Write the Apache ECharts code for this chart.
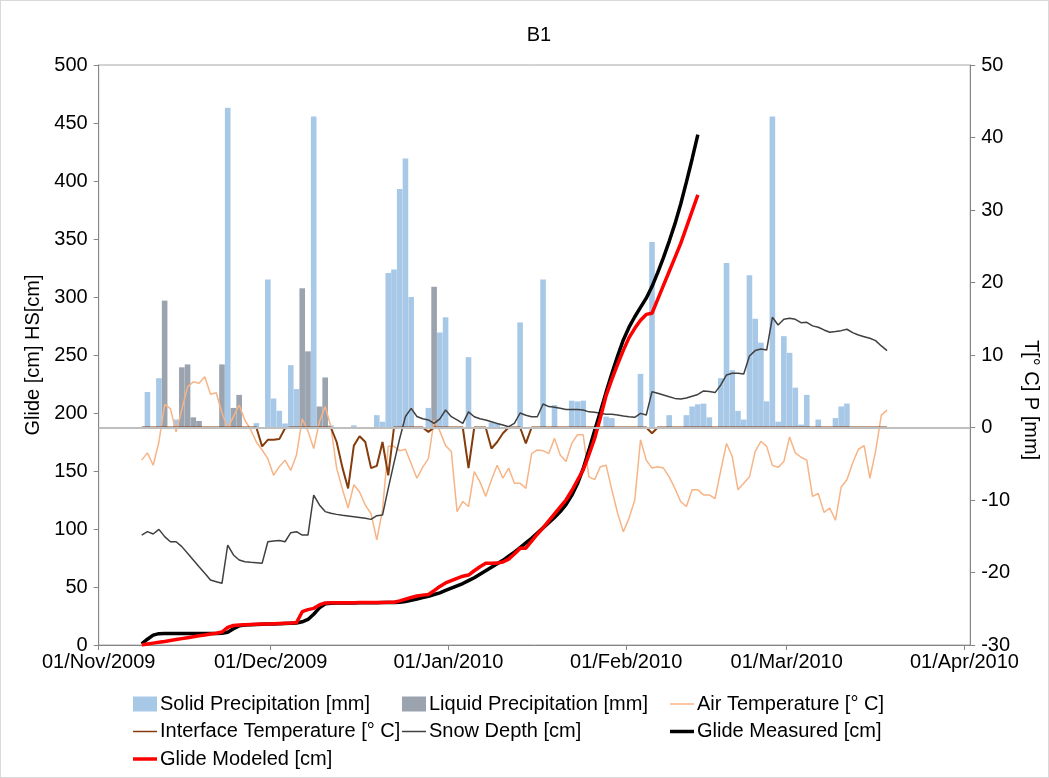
<!DOCTYPE html>
<html>
<head>
<meta charset="utf-8">
<title>B1</title>
<script src="https://cdn.jsdelivr.net/npm/echarts@6/dist/echarts.min.js"></script>
<style>
  html, body { margin: 0; padding: 0; background: #fff; }
  #chart { width: 1049px; height: 778px; }
  #frame { position: absolute; left: 0; top: 0; width: 1049px; height: 778px; box-sizing: border-box; border: 1px solid #d9d9d9; pointer-events: none; }
</style>
</head>
<body>
<div id="chart"></div>
<div id="frame"></div>
<script>
// all daily series start on 08/Nov/2009 (one value per day)
const firstDate = [2009, 10, 8]
const axisStart = [2009, 10, 1]
const axisEnd = [2010, 3, 2]
const tickDates = [[2009, 10, 1], [2009, 11, 1], [2010, 0, 1], [2010, 1, 1], [2010, 2, 1], [2010, 3, 1]]
const tickLabels = ['01/Nov/2009', '01/Dec/2009', '01/Jan/2010', '01/Feb/2010', '01/Mar/2010', '01/Apr/2010']

// precipitation [mm], right axis
const solidPrecip = [
  0, 4.9, 0, 6.8, 0, 0, 1.1, 0, 0, 0,
  0, 0, 0, 0, 0, 44.1, 0, 0, 0, 0,
  0.6, 0, 20.4, 4.0, 2.3, 0.55, 8.6, 5.3, 0, 0,
  42.9, 0, 0, 0.3, 0, 0, 0, 0.3, 0, 0,
  0, 1.7, 0.8, 21.3, 21.8, 32.9, 37.1, 18.0, 0, 0,
  2.7, 0, 13.1, 15.2, 0, 0, 0, 9.7, 0, 0,
  0, 0.7, 0.5, 0, 0, 0, 14.5, 0, 0, 0,
  20.4, 0, 3.1, 0, 0, 3.7, 3.6, 3.7, 0, 0,
  0, 1.5, 1.3, 0, 0, 0, 0, 7.4, 0, 25.6,
  0, 0, 1.7, 0, 0, 1.7, 2.9, 3.2, 3.3, 1.4,
  0, 6.8, 22.7, 7.9, 2.3, 1.1, 21.0, 15.0, 11.7, 3.6,
  42.9, 0.8, 12.6, 10.3, 5.5, 0.4, 4.5, 0, 1.1, 0,
  0, 1.3, 2.9, 3.3, 0, 0, 0, 0, 0, 0,
  0
]
const liquidPrecip = [
  0, 0, 0, 0, 17.5, 0, 0, 8.3, 8.7, 1.4,
  0.9, 0, 0, 0, 8.7, 0, 2.7, 4.5, 0, 0,
  0, 0, 0, 0, 0, 0, 0, 0, 19.2, 10.5,
  0, 2.9, 6.9, 0, 0, 0, 0, 0, 0, 0,
  0, 0, 0, 0, 0, 0, 0, 0, 0, 0,
  0, 19.4
]

// temperatures [° C], right axis
const airTemp = [
  -4.5, -3.5, -5.2, -2.0, 3.2, 2.6, -0.6, 2.5, 5.6, 6.3,
  6.1, 7.0, 4.6, 4.8, 2.0, -0.1, 1.5, 3.1, 1.0, -0.3,
  -2.0, -3.1, -4.3, -6.6, -5.4, -4.5, -5.9, -3.8, 1.2, -0.5,
  -2.9, 0.8, 2.9, 0.1, -5.6, -8.5, -11.1, -7.9, -8.9, -10.7,
  -11.9, -15.5, -11.4, -2.6, -2.6, -3.2, -3.0, -5.0, -7.0, -5.5,
  -4.3, 1.0, -0.5, -2.5, -3.3, -11.6, -10.2, -10.9, -6.1, -7.5,
  -9.5, -7.2, -5.2, -7.0, -5.6, -7.7, -7.7, -8.4, -3.6, -3.1,
  -3.2, -3.6, -1.5, -3.8, -4.7, -2.2, -1.0, -1.0, -6.8, -7.2,
  -5.4, -5.2, -8.6, -11.8, -14.4, -12.5, -10.0, -1.7, -4.5, -5.6,
  -5.4, -5.6, -6.8, -8.4, -10.2, -10.9, -8.6, -8.6, -9.3, -9.3,
  -9.8, -5.9, -2.2, -4.0, -8.6, -7.7, -6.8, -3.3, -1.9, -2.6,
  -5.2, -5.5, -4.7, -1.3, -3.5, -4.1, -4.5, -9.5, -9.1, -11.7,
  -11.1, -12.8, -8.2, -7.2, -4.9, -3.0, -2.5, -7.0, -3.3, 1.7,
  2.4
]
const interfaceTemp = [
  0, 0, 0, 0, 0, 0, 0, 0, 0, 0,
  0, 0, 0, 0, 0, 0, 0, 0, 0, 0,
  0, -2.6, -1.7, -1.7, -1.6, -0.1, 0, 0, 0, 0,
  0, 0, 0, 0, -2.0, -5.5, -8.4, -2.5, -1.2, -2.0,
  -5.6, -5.3, -2.0, -6.6, 0, 0, 0, 0, 0, 0,
  -0.6, 0, 0, 0, 0, 0, 0, -5.6, 0, 0,
  0, -2.9, -2.0, -0.8, 0, 0, 0, -2.2, 0, 0,
  0, 0, 0, 0, 0, 0, 0, 0, 0, 0,
  0, 0, 0, 0, 0, 0, 0, 0, 0, -0.8,
  0, 0, 0, 0, 0, 0, 0, 0, 0, 0,
  0, 0, 0, 0, 0, 0, 0, 0, 0, 0,
  0, 0, 0, 0, 0, 0, 0, 0, 0, 0,
  0, 0, 0, 0, 0, 0, 0, 0, 0, 0,
  0
]

// snow depth and glide [cm], left axis
const snowDepth = [
  94.8, 97.7, 95.7, 99.7, 93.4, 89, 89, 84.8, 79, 73.3,
  67.5, 61.8, 56, 54.6, 53.2, 86.2, 77.6, 73.3, 71.8, 71.3,
  71, 70.4, 89, 89.7, 90, 89, 96.8, 97.7, 94.8, 94.8,
  129.3, 120.7, 115, 113.5, 112.6, 111.8, 111.2, 110.6, 110, 109.2,
  108.3, 111.5, 112, 135, 157, 178, 197, 204, 197, 195,
  194, 191, 195, 202.6, 196.8, 194, 191, 201, 196.8, 195,
  194, 192.5, 191, 189.7, 188.2, 191, 200, 198, 196.8, 196.8,
  207.8, 205.5, 205, 204, 203, 203, 203, 202.6, 201, 200.6,
  199.7, 199, 198.9, 198.3, 197.4, 196.8, 196.3, 199.7, 198.3, 218.4,
  217, 215.5, 214, 212.6, 212, 213, 214.5, 216, 219, 218.5,
  217.6, 224.2, 232.8, 234.3, 234.3, 233.7, 249.2, 253.8, 255.2, 254.3,
  282.5, 275.9, 280.8, 281.6, 280.8, 277.9, 278.2, 275.1, 273.9, 271.6,
  269.6, 270.2, 271, 272.2, 269.3, 267.2, 265.8, 264.4, 262.4, 257.8,
  253.8
]
const glideMeasured = [
  1, 5, 8.5, 9.8, 10, 10, 10, 10, 10, 10,
  10, 10, 10, 10, 10.2, 11, 14, 16.5, 17.2, 17.4,
  17.6, 17.8, 18, 18.2, 18.4, 18.6, 18.8, 19, 20, 22,
  26.5, 32, 35.5, 36, 36.1, 36.2, 36.3, 36.3, 36.4, 36.4,
  36.5, 36.5, 36.6, 36.6, 36.7, 36.8, 37.5, 38.5, 39.6, 40.8,
  42, 43.5, 45, 47, 49, 51, 53, 55.5, 58, 61,
  64, 67, 70, 73, 76.5, 80, 84, 88, 92, 96.5,
  101, 105.5, 110, 115, 121, 129, 139, 152, 168, 185,
  201, 218, 234, 249, 263, 274, 283, 291, 299, 309,
  321, 334, 348, 363, 380, 399, 419, 440
]
const glideModeled = [
  0, 0.8, 1.6, 2.4, 3.1, 3.9, 4.7, 5.5, 6.3, 7.1,
  7.9, 8.6, 9.4, 10.2, 11.2, 15.2, 16.8, 17.2, 17.4, 17.6,
  17.8, 18, 18.2, 18.4, 18.6, 18.8, 19, 19.3, 28.7, 30.5,
  31.6, 34.5, 36.3, 36.4, 36.4, 36.5, 36.5, 36.5, 36.6, 36.6,
  36.6, 36.7, 36.7, 36.8, 36.8, 38, 39.5, 41, 42.2, 43,
  43.5, 46.8, 50.5, 53.5, 55.5, 57.5, 59.3, 60.3, 64, 67.5,
  70.4, 70.5, 70.6, 71.5, 74, 78.5, 83.3, 83.5, 89.5, 95.5,
  101, 107, 113, 119, 125, 133, 142, 151, 164, 178,
  196, 215, 229, 242, 254, 265, 273, 280, 285, 286,
  298, 310, 322, 334, 346, 360, 374, 388
]

const font = "'Liberation Sans', Arial, sans-serif"
const axisGray = '#868686'
const fs = 20

// x axis counts days since 01/Nov/2009; each daily value sits at midday
const dayNum = d => (Date.UTC(d[0], d[1], d[2]) - Date.UTC(axisStart[0], axisStart[1], axisStart[2])) / 86400000
const firstDay = dayNum(firstDate)
const pts = arr => arr.map((v, i) => [firstDay + i + 0.5, v])
const tickDays = tickDates.map(dayNum)

// legend icon for a line of given thickness (plain stroke, no marker)
const lineIcon = w => 'path://M0,0 L48,0 L48,' + w + ' L0,' + w + ' Z'

const chart = echarts.init(document.getElementById('chart'))

const legendBase = {
  top: 694, orient: 'vertical', itemGap: 7.5, itemWidth: 24, itemHeight: 15, padding: 0,
  textStyle: { color: '#000', fontSize: fs, fontFamily: font, lineHeight: 20, padding: [0, 0, 0, -2] }
}

chart.setOption({
  backgroundColor: '#ffffff',
  animation: false,
  title: {
    text: 'B1',
    left: 534,
    textAlign: 'center',
    top: 20,
    textStyle: { color: '#000', fontSize: fs, fontWeight: 'normal', fontFamily: font }
  },
  grid: {
    left: 98.7, right: 78, top: 65, bottom: 133,
    show: true, borderColor: '#a6a6a6', borderWidth: 1
  },
  legend: [
    Object.assign({}, legendBase, {
      left: 133,
      data: [
        { name: 'Solid Precipitation [mm]', icon: 'rect' },
        { name: 'Interface Temperature [° C]', icon: lineIcon(3) },
        { name: 'Glide Modeled [cm]', icon: lineIcon(7) }
      ]
    }),
    Object.assign({}, legendBase, {
      left: 402,
      data: [
        { name: 'Liquid Precipitation [mm]', icon: 'rect' },
        { name: 'Snow Depth [cm]', icon: lineIcon(3) }
      ]
    }),
    Object.assign({}, legendBase, {
      left: 670,
      data: [
        { name: 'Air Temperature [° C]', icon: lineIcon(3) },
        { name: 'Glide Measured [cm]', icon: lineIcon(7) }
      ]
    })
  ],
  xAxis: {
    type: 'value',
    min: 0,
    max: dayNum(axisEnd),
    splitLine: { show: false },
    axisLine: { onZero: false, lineStyle: { color: axisGray, width: 1 } },
    axisTick: { show: true, customValues: tickDays, length: 5, lineStyle: { color: axisGray } },
    axisLabel: {
      customValues: tickDays,
      color: '#000', fontSize: fs, fontFamily: font, margin: 7,
      formatter: v => {
        const k = tickDays.indexOf(v)
        return k >= 0 ? tickLabels[k] : ''
      }
    }
  },
  yAxis: [
    {
      type: 'value', min: 0, max: 500, interval: 50,
      name: 'Glide [cm] HS[cm]', nameLocation: 'middle', nameGap: 55, nameRotate: 90,
      nameTextStyle: { color: '#000', fontSize: fs, fontFamily: font },
      splitLine: { show: false },
      axisLine: { show: true, lineStyle: { color: axisGray } },
      axisTick: { show: true, length: 5, lineStyle: { color: axisGray } },
      axisLabel: { color: '#000', fontSize: fs, fontFamily: font, margin: 11 }
    },
    {
      type: 'value', min: -30, max: 50, interval: 10, position: 'right',
      name: 'T[° C] P [mm]', nameLocation: 'middle', nameGap: 40, nameRotate: -90,
      nameTextStyle: { color: '#000', fontSize: fs, fontFamily: font, padding: [0, 0, 0, 90] },
      splitLine: { show: false },
      axisLine: { show: true, onZero: false, lineStyle: { color: axisGray } },
      axisTick: { show: true, length: 5, lineStyle: { color: axisGray } },
      axisLabel: { color: '#000', fontSize: fs, fontFamily: font, margin: 11 }
    }
  ],
  series: [
    {
      name: 'Solid Precipitation [mm]', type: 'bar', yAxisIndex: 1,
      data: pts(solidPrecip), barWidth: 5.6, barGap: '-100%',
      itemStyle: { color: '#a8c8e8' }
    },
    {
      name: 'Liquid Precipitation [mm]', type: 'bar', yAxisIndex: 1,
      data: pts(liquidPrecip), barWidth: 5.6, barGap: '-100%',
      itemStyle: { color: '#9aa3ae' }
    },
    {
      name: 'Air Temperature [° C]', type: 'line', yAxisIndex: 1,
      data: pts(airTemp), symbol: 'none',
      lineStyle: { color: '#f7b486', width: 1.5 }, itemStyle: { color: '#f7b486' },
      markLine: {
        silent: true, symbol: 'none', label: { show: false },
        lineStyle: { color: '#bfbfbf', width: 2, type: 'solid' },
        data: [{ yAxis: 0 }]
      }
    },
    {
      name: 'Interface Temperature [° C]', type: 'line', yAxisIndex: 1,
      data: pts(interfaceTemp), symbol: 'none',
      lineStyle: { color: '#843c0c', width: 2 }, itemStyle: { color: '#843c0c' }
    },
    {
      name: 'Snow Depth [cm]', type: 'line', yAxisIndex: 0,
      data: pts(snowDepth), symbol: 'none',
      lineStyle: { color: '#404040', width: 1.5 }, itemStyle: { color: '#404040' }
    },
    {
      name: 'Glide Measured [cm]', type: 'line', yAxisIndex: 0,
      data: pts(glideMeasured), symbol: 'none',
      lineStyle: { color: '#000000', width: 3.5 }, itemStyle: { color: '#000000' }
    },
    {
      name: 'Glide Modeled [cm]', type: 'line', yAxisIndex: 0,
      data: pts(glideModeled), symbol: 'none',
      lineStyle: { color: '#ff0000', width: 3.5 }, itemStyle: { color: '#ff0000' }
    }
  ]
})
</script>
</body>
</html>
